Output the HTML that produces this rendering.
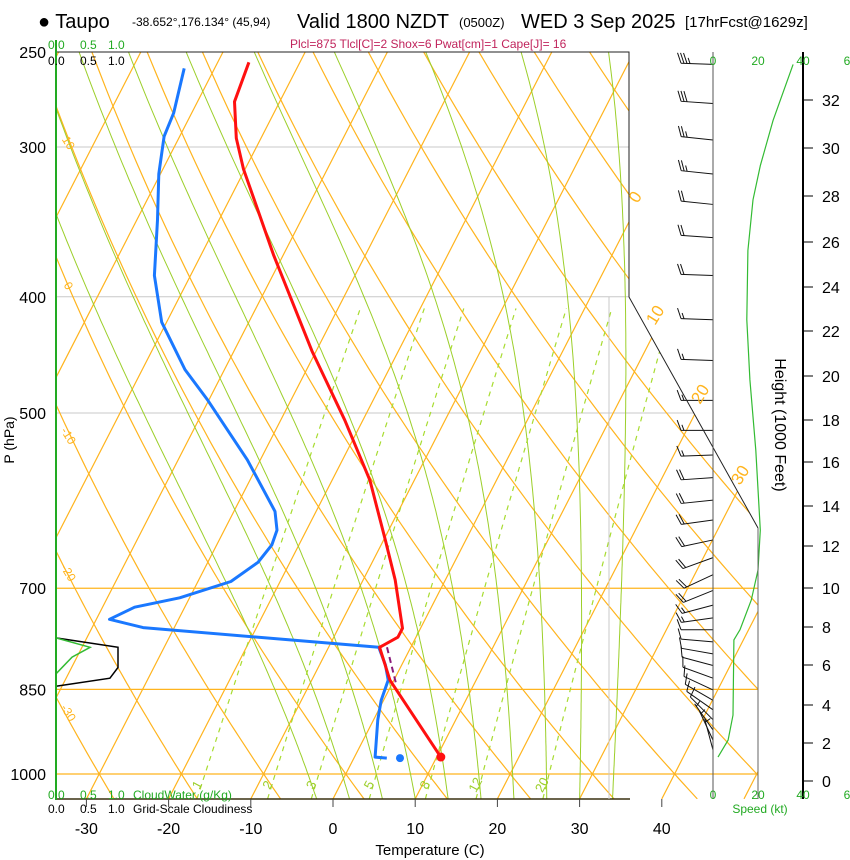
<!DOCTYPE html>
<html><head><meta charset="utf-8"><style>
html,body{margin:0;padding:0;background:#fff;}
svg{display:block;font-family:"Liberation Sans",sans-serif;}
</style></head><body>
<svg id="c" width="850" height="860" viewBox="0 0 850 860">
<defs><clipPath id="plotclip"><polygon points="56,52 629,52 629,297 758,528 758,799 56,799"/></clipPath></defs>
<g id="grid" clip-path="url(#plotclip)"></g>
<g id="marks"></g>
<g id="axes"></g>
</svg>
<script>
// ---- data ----
const tempP=[968,835,784,769,756,689,638,569,507,444,369,313,295,275,255];
const tempT=[10.5,-0.5,-3.8,-2.2,-2.2,-6.1,-9.8,-15.4,-22.2,-30.5,-41.2,-50.2,-53.0,-55.5,-56.2];
const dewP=[970,968,901,868,835,811,784,755,743,726,713,691,666,644,626,604,580,547,517,488,460,420,384,345,316,294,281,258];
const dewT=[4.0,2.5,0.5,-0.3,-0.7,-2.0,-3.9,-33.8,-38.4,-36.1,-31.2,-26.0,-23.9,-23.3,-23.6,-25.0,-27.7,-31.6,-35.8,-40.1,-44.8,-50.6,-54.4,-57.5,-60.2,-61.9,-62.2,-63.7];
const parcelP=[784,843];
const parcelT=[-2.9,0.6];
const sfcTemp=10.5, sfcDew=5.6, sfcP=970;
const spdP=[968,937,893,773,758,716,676,626,537,469,418,366,332,311,285,256];
const spdKt=[2.2,6.7,8.9,9.3,12,17,20,21,19,16.4,15,15.5,17.8,21,26.7,35.6];
const barbP=[256,276,296,316,335,357,384,418,452,488,517,542,566,591,614,638,660,682,703,723,741,758,776,794,812,832,851,868,884,901,919,937,955];
const barbSpd=[35,30,27,24,22,20,18,16,15,15,16,17,18,19,20,20,20,20,18,16,14,12,10,9,9,9,9,9,9,8,7,5,3];
const barbDir=[272,274,276,276,276,274,272,272,272,270,270,268,266,264,262,258,250,245,248,255,262,270,275,280,285,290,295,300,305,315,325,335,345];
const cloudP=[770,784,815,832,845];
const cloudFrac=[0,1,1,0.87,0];
const cwP=[770,784,799,825];
const cwVal=[0,0.55,0.26,0];
const pLabels=[250,300,400,500,700,850,1000];
const tLabels=[-30,-20,-10,0,10,20,30,40];
const hLabels=[0,2,4,6,8,10,12,14,16,18,20,22,24,26,28,30,32];
const hY=[781,743,705,665,627,588,546,506,462,420,376,331,287,242,196,148,100];
const wLines=[1,2,3,5,8,12,20];
const isoT=[-110,-100,-90,-80,-70,-60,-50,-40,-30,-20,-10,0,10,20,30,40,50];
const thetaC=[-40,-30,-20,-10,0,10,20,30,40,50,60,70,80,90,100,110,120,130,140,150];
const moistStart=[-2,2,6,10,14,18,22,26,30,34];
// ---- scales ----
const NS='http://www.w3.org/2000/svg';
const Y=p=>774-520.8*Math.log(1000/p);
const X=(T,p)=>333+8.22*T+0.513*(799-Y(p));
const SX=k=>713+k*2.25;
const CX=f=>56+f*62;
function mk(tag,attrs,parent){const e=document.createElementNS(NS,tag);for(const k in attrs)e.setAttribute(k,attrs[k]);parent.appendChild(e);return e;}
const grid=document.getElementById('grid'),marks=document.getElementById('marks'),axes=document.getElementById('axes');
function path(pts,attrs,parent){const d=pts.map((q,i)=>(i?'L':'M')+q[0].toFixed(1)+','+q[1].toFixed(1)).join('');const e=mk('path',Object.assign({d:d,fill:'none'},attrs),parent);return e;}
const OR='#ffb41e', GR='#9ccf2a';
// isobars
[300,400,500].forEach(p=>{const e=mk('line',{x1:56,x2:760,y1:Y(p),y2:Y(p),stroke:'#c8c8c8','stroke-width':1},grid);
});
[700,850,1000].forEach(p=>{const e=mk('line',{x1:56,x2:760,y1:Y(p),y2:Y(p),stroke:OR,'stroke-width':1.2},grid);
});
// isotherms
isoT.forEach(T=>{const e=path([[X(T,1049),Y(1049)],[X(T,250),Y(250)]],{stroke:OR,'stroke-width':1.2},grid);
});
// dry adiabats
thetaC.forEach(th=>{const pts=[];for(let p=1049;p>=240;p-=10){const T=(th+273.15)*Math.pow(p/1000,0.286)-273.15;pts.push([X(T,p),Y(p)]);}
const e=path(pts,{stroke:OR,'stroke-width':1.2},grid);});
// moist adiabats
moistStart.forEach(t0=>{let T=t0+273.15;const pts=[];for(let p=1049;p>=245;p-=5){pts.push([X(T-273.15,p),Y(p)]);
const es=6.112*Math.exp(17.67*(T-273.15)/(T-29.65));const rs=0.622*es/(p-es);
const dT=(287*T+2.5e6*rs)/(p*(1004+2.5e6*2.5e6*rs*0.622/(287*T*T)));T-=dT*5;}
const e=path(pts,{stroke:GR,'stroke-width':1},grid);});
// mixing ratio
const wT=(w,p)=>{const es=w*p/(622+w);const l=Math.log(es/6.112);return 243.5*l/(17.67-l);};
wLines.forEach(w=>{const pts=[];for(let p=1049;p>=400;p-=10)pts.push([X(wT(w,p),p),Y(p)]);
const e=path(pts,{stroke:'#a8dc30','stroke-width':1.2,'stroke-dasharray':'5,5'},grid);
const py=1000*Math.exp((785-774)/520.8);const lx=X(wT(w,py),py)-4;
const t=mk('text',{x:lx,y:789,fill:'#9ccf2a','font-size':13,'text-anchor':'middle',transform:`rotate(-62 ${lx} 785)`},grid);t.textContent=w;
});
// borders
mk('polyline',{points:'56,52 629,52 629,297 758,528',fill:'none',stroke:'#222','stroke-width':1},axes);
mk('line',{x1:56,y1:799,x2:630,y2:799,stroke:'#3a3010','stroke-width':1.5},axes);
mk('line',{x1:609,y1:297,x2:609,y2:799,stroke:'#c8c8c8','stroke-width':1},axes);
mk('line',{x1:758,y1:528,x2:758,y2:799,stroke:'#666','stroke-width':1},axes);
mk('line',{x1:713,y1:52,x2:713,y2:799,stroke:'#555','stroke-width':1},axes);
mk('line',{x1:803,y1:52,x2:803,y2:799,stroke:'#000','stroke-width':2},axes);
mk('line',{x1:56,y1:40,x2:56,y2:800,stroke:'#22aa22','stroke-width':2},axes);
// isotherm & theta labels
[[0,640,200],[10,660,318],[20,705,397],[30,745,478]].forEach(a=>{const t=mk('text',{x:a[1],y:a[2],fill:OR,'font-size':17,'text-anchor':'middle',transform:`rotate(-58 ${a[1]} ${a[2]})`},axes);t.textContent=a[0];
});
[[10,65,145],[0,65,288],[-10,65,438],[-20,65,575],[-30,65,715]].forEach(a=>{const t=mk('text',{x:a[1],y:a[2],fill:OR,'font-size':12,'text-anchor':'middle',transform:`rotate(58 ${a[1]} ${a[2]})`},axes);t.textContent=a[0];
});
// cloud
{const pts=cloudP.map((p,i)=>[CX(cloudFrac[i]),Y(p)]);const e=path(pts,{stroke:'#000','stroke-width':1.5},marks);}
{const pts=cwP.map((p,i)=>[CX(cwVal[i]),Y(p)]);const e=path(pts,{stroke:'#33bb33','stroke-width':1.5},marks);}
// speed
{const pts=spdP.map((p,i)=>[SX(spdKt[i]),Y(p)]);const e=path(pts,{stroke:'#33bb33','stroke-width':1.2},marks);}
// barbs
barbP.forEach((p,i)=>{const y=Y(p),d=barbDir[i]*Math.PI/180;const ux=Math.sin(d),uy=Math.cos(d);const L=32;
const sx=713+ux*L,sy=y-uy*L;
const g=mk('g',{},marks);
mk('line',{x1:713,y1:y,x2:sx,y2:sy,stroke:'#111','stroke-width':1},g);
const fx=0.35*ux+0.94*uy, fy=-0.35*uy+0.94*ux;
let s=barbSpd[i],k=0;
while(s>=7.5){const bx=sx-ux*k*3,by=sy+uy*k*3;mk('line',{x1:bx,y1:by,x2:bx+fx*11,y2:by+fy*11,stroke:'#111','stroke-width':1},g);s-=10;k++;}
if(s>=2.5){const kk=(k===0?1:k);const bx=sx-ux*kk*3,by=sy+uy*kk*3;mk('line',{x1:bx,y1:by,x2:bx+fx*6,y2:by+fy*6,stroke:'#111','stroke-width':1},g);}
});
// profiles
{const e=path(dewP.map((p,i)=>[X(dewT[i],p),Y(p)]),{stroke:'#1a78ff','stroke-width':3,'stroke-linejoin':'round'},marks);}
{const e=path(tempP.map((p,i)=>[X(tempT[i],p),Y(p)]),{stroke:'#ff1010','stroke-width':3,'stroke-linejoin':'round'},marks);}
{const e=path(parcelP.map((p,i)=>[X(parcelT[i],p),Y(p)]),{stroke:'#8a1a7a','stroke-width':2,'stroke-dasharray':'6,4'},marks);}
{const e=mk('circle',{cx:X(sfcTemp,968),cy:Y(968),r:4.5,fill:'#ff1010'},marks);}
{const e=mk('circle',{cx:X(sfcDew,sfcP),cy:Y(sfcP),r:4,fill:'#1a78ff'},marks);}
// axis labels
pLabels.forEach(p=>{const t=mk('text',{x:46,y:Y(p)+6,'font-size':16,'text-anchor':'end',fill:'#000'},axes);t.textContent=p;
});
tLabels.forEach(T=>{const x=333+8.22*T;mk('line',{x1:x,y1:799,x2:x,y2:807,stroke:'#444'},axes);
const t=mk('text',{x:x,y:834,'font-size':16,'text-anchor':'middle',fill:'#000'},axes);t.textContent=T;
});
hLabels.forEach((h,i)=>{mk('line',{x1:803,y1:hY[i],x2:813,y2:hY[i],stroke:'#000'},axes);
const t=mk('text',{x:822,y:hY[i]+6,'font-size':16,fill:'#000'},axes);t.textContent=h;
});
</script>
<script>
const A=document.getElementById('axes');
function txt(x,y,s,str,fill,anchor,extra,name){const t=document.createElementNS('http://www.w3.org/2000/svg','text');t.setAttribute('x',x);t.setAttribute('y',y);t.setAttribute('font-size',s);t.setAttribute('fill',fill||'#000');if(anchor)t.setAttribute('text-anchor',anchor);if(extra)t.setAttribute('transform',extra);t.textContent=str;


A.appendChild(t);}
txt(38,28,20,'● Taupo','#000',null,null,'station-title');
txt(132,26,12,'-38.652°,176.134° (45,94)','#000',null,null,'station-coords');
txt(297,28,20,'Valid 1800 NZDT','#000',null,null,'valid-time');
txt(459,27,13,'(0500Z)','#000',null,null,'utc-time');
txt(521,28,20,'WED 3 Sep 2025','#000',null,null,'date-title');
txt(685,27,15,'[17hrFcst@1629z]','#000',null,null,'forecast-info');
txt(290,48,12,'Plcl=875 Tlcl[C]=2 Shox=6 Pwat[cm]=1 Cape[J]= 16','#c0245c',null,null,'indices-subtitle');
txt(48,49,12,'0.0','#22aa22',null,null,'cloudwater-scale-top');txt(80,49,12,'0.5','#22aa22',null,null,'cloudwater-scale-top');txt(108,49,12,'1.0','#22aa22',null,null,'cloudwater-scale-top');
txt(48,65,12,'0.0','#000',null,null,'cloud-scale-top');txt(80,65,12,'0.5','#000',null,null,'cloud-scale-top');txt(108,65,12,'1.0','#000',null,null,'cloud-scale-top');
txt(48,799,12,'0.0','#22aa22',null,null,'cloudwater-scale-bottom');txt(80,799,12,'0.5','#22aa22',null,null,'cloudwater-scale-bottom');txt(108,799,12,'1.0','#22aa22',null,null,'cloudwater-scale-bottom');
txt(133,799,12,'CloudWater (g/Kg)','#22aa22',null,null,'cloudwater-axis-title');
txt(48,813,12,'0.0','#000',null,null,'cloud-scale-bottom');txt(80,813,12,'0.5','#000',null,null,'cloud-scale-bottom');txt(108,813,12,'1.0','#000',null,null,'cloud-scale-bottom');
txt(133,813,12,'Grid-Scale Cloudiness','#000',null,null,'cloudiness-axis-title');
[[713,'0'],[758,'20'],[803,'40'],[847,'6']].forEach(a=>{txt(a[0],65,12,a[1],'#22aa22','middle',null,'speed-scale-top');txt(a[0],799,12,a[1],'#22aa22','middle',null,'speed-scale-bottom');});
txt(760,813,12,'Speed (kt)','#22aa22','middle',null,'speed-axis-title');
txt(430,855,15,'Temperature (C)','#000','middle',null,'x-axis-title');
txt(14,440,14,'P (hPa)','#000','middle','rotate(-90 14 440)','y-axis-title');
txt(775,425,16,'Height (1000 Feet)','#000','middle','rotate(90 775 425)','height-axis-title');
</script>
</body></html>
